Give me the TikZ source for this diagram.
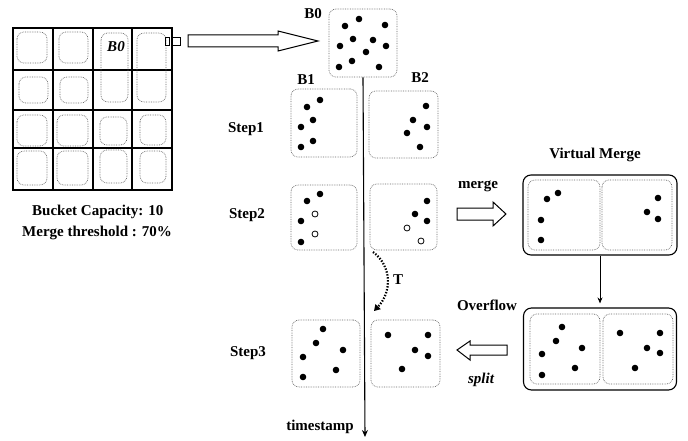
\documentclass[tikz,border=0pt]{standalone}
\usepackage{fontspec}
\setmainfont{Liberation Serif}
\usetikzlibrary{arrows.meta}
\tikzset{
  bkt/.style={draw=black!60, densely dotted, line width=0.7pt, rounded corners=7pt},
  bktnode/.style={bkt, inner sep=0pt},
  dotf/.style={fill=black},
  doto/.style={draw=black, fill=white, line width=0.8pt},
  lbl/.style={font=\fontsize{15}{18}\selectfont\bfseries, inner sep=0pt},
  vbox/.style={draw=black, line width=1.1pt, rounded corners=8pt, inner sep=0pt},
  hollow/.style={draw=black, line width=1pt, fill=white, line join=miter},
  gridl/.style={line width=1.1pt},
  tline/.style={line width=1.1pt, -{Stealth[length=7pt,width=6pt]}},
  tdots/.style={line width=2.2pt, dash pattern=on 1.4pt off 1.6pt, -{Triangle[length=6pt,width=7pt]}},
}
\begin{document}
\begin{tikzpicture}[x=1pt,y=-1pt]
\useasboundingbox[fill=white] (0,0) rectangle (688,441);

% ---------- grid ----------
\draw[gridl] (13,28) rectangle (172,190);
\foreach \x in {53,93,132} \draw[gridl] (\x,28) -- (\x,190);
\foreach \y in {70,110,148} \draw[gridl] (13,\y) -- (172,\y);
% dotted buckets inside grid
\draw[bkt] (17,32) rectangle (47,63);
\draw[bkt] (59,32) rectangle (88,63);
\draw[bkt] (101,33) rectangle (128,102);
\draw[bkt] (137,33) rectangle (166,102);
\draw[bkt] (19,77) rectangle (48,103);
\draw[bkt] (60,77) rectangle (88,103);
\draw[bkt] (17,115) rectangle (47,146);
\draw[bkt] (57,115) rectangle (88,146);
\draw[bkt] (100,117) rectangle (127,145);
\draw[bkt] (140,115) rectangle (166,145);
\draw[bkt] (17,151) rectangle (47,185);
\draw[bkt] (57,151) rectangle (88,185);
\draw[bkt] (100,150) rectangle (127,183);
\draw[bkt] (140,151) rectangle (166,183);
\node[lbl, font=\fontsize{15}{18}\selectfont\bfseries\itshape] (gB0) at (116,47) {B0};

% small squares and big hollow arrow
\draw[line width=0.9pt] (165,37) rectangle (169,45);
\draw[line width=0.9pt] (171,37) rectangle (180,45);
\draw[hollow] (188,35) -- (278,35) -- (278,31) -- (318,41) -- (278,51) -- (278,47) -- (188,47) -- cycle;

% ---------- B0 ----------
\node[bktnode, minimum width=68pt, minimum height=68pt] (b0) at (363,43) {};
\node[lbl] (lB0) at (313,14) {B0};
\foreach \p in {(359,19),(345,26),(385,25),(353,39),(373,40),(340,46),(386,46),(366,52),(352,61),(339,67),(379,67)}
  \fill[dotf] \p circle (3.3);

% ---------- timeline ----------
\coordinate (tend) at (365,437);
\draw[tline] (b0.south) -- (tend);
\node[lbl, anchor=east] (lts) at (354,427) {timestamp};

% ---------- Step 1 ----------
\node[lbl] (lst1) at (246,129) {Step1};
\node[lbl] (lB1) at (306,80) {B1};
\node[lbl] (lB2) at (420,78) {B2};
\node[bktnode, minimum width=66pt, minimum height=68pt] (s1a) at (324,123) {};
\node[bktnode, minimum width=69pt, minimum height=67pt] (s1b) at (403.5,124.5) {};
\foreach \p in {(307,107),(320,100),(313,120),(301,127),(313,141),(301,147),
                (426,106),(413,120),(427,127),(407,133),(420,147)}
  \fill[dotf] \p circle (3.3);

% ---------- Step 2 ----------
\node[lbl] (lst2) at (247,215) {Step2};
\node[bktnode, minimum width=66pt, minimum height=65pt] (s2a) at (324,217.5) {};
\node[bktnode, minimum width=67pt, minimum height=66pt] (s2b) at (403.5,217) {};
\foreach \p in {(320,194),(307,201),(301,221),(301,242),(427,201),(415,214),(427,221)}
  \fill[dotf] \p circle (3.3);
\foreach \p in {(315,214),(315,234),(407,228),(421,241)}
  \draw[doto] \p circle (3);

% T curve
\coordinate (tA) at (373,252);
\coordinate (tB) at (374,311);
\draw[tdots] (tA) .. controls (392,266) and (392,292) .. (tB);
\node[lbl] (lT) at (398,280) {T};

% ---------- Step 3 ----------
\node[lbl] (lst3) at (248,353) {Step3};
\node[bktnode, minimum width=68pt, minimum height=67pt] (s3a) at (326,353.5) {};
\node[bktnode, minimum width=69pt, minimum height=67pt] (s3b) at (405.5,353.5) {};
\foreach \p in {(323,329),(316,343),(343,350),(303,357),(336,370),(303,377),
                (388,335),(428,335),(415,350),(428,356),(402,369)}
  \fill[dotf] \p circle (3.3);

% ---------- merge ----------
\node[lbl] (lmerge) at (478,186) {merge};
\draw[hollow] (457,208) -- (493,208) -- (493,202) -- (506,214) -- (493,226) -- (493,220) -- (457,220) -- cycle;

% ---------- Virtual merge ----------
\node[lbl] (lvm) at (595,155) {Virtual Merge};
\node[vbox, minimum width=154pt, minimum height=80pt] (vm) at (600,215) {};
\draw[bkt] (528,180) rectangle (600,250);
\draw[bkt] (602,180) rectangle (672,250);
\foreach \p in {(558,193),(547,199),(541,220),(541,240),(658,198),(647,212),(658,219)}
  \fill[dotf] \p circle (3.3);

% ---------- Overflow ----------
\node[lbl] (lof) at (487,305) {Overflow};
\node[vbox, minimum width=153pt, minimum height=82pt] (of) at (600,349) {};
\draw[bkt] (530,314) rectangle (600,384);
\draw[bkt] (603,314) rectangle (673,384);
\foreach \p in {(562,327),(556,341),(582,348),(542,354),(575,368),(542,375),
                (620,333),(660,333),(647,348),(660,353),(635,368)}
  \fill[dotf] \p circle (3.3);
\draw[line width=1pt, -{Stealth[length=6pt,width=5pt]}, shorten >=4pt] (vm.south) -- (of.north);

% ---------- split ----------
\draw[hollow] (507,345) -- (470,345) -- (470,341) -- (457,350) -- (470,360) -- (470,355) -- (507,355) -- cycle;
\node[lbl, font=\fontsize{15}{18}\selectfont\bfseries\itshape] (lsplit) at (481,380) {split};

% ---------- left text ----------
\node[lbl, anchor=west] (lcap) at (32,212) {Bucket Capacity: 10};
\node[lbl, anchor=west] (lthr) at (22,233) {Merge threshold : 70\%};
\end{tikzpicture}
\end{document}
